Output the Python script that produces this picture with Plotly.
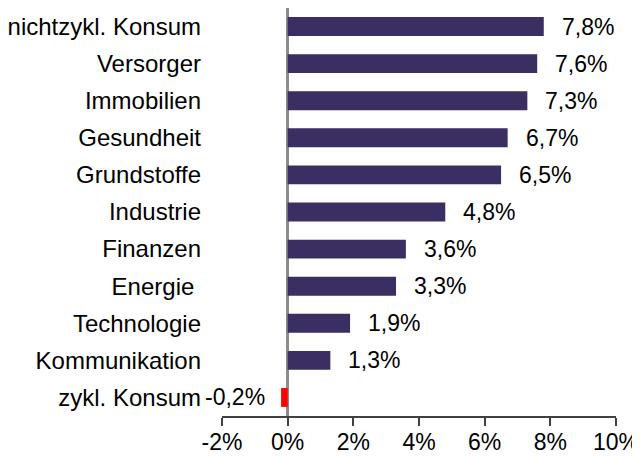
import plotly.graph_objects as go

categories = ["nichtzykl. Konsum", "Versorger", "Immobilien", "Gesundheit", "Grundstoffe",
              "Industrie", "Finanzen", "Energie ", "Technologie", "Kommunikation", "zykl. Konsum"]
values = [7.8, 7.6, 7.3, 6.7, 6.5, 4.8, 3.6, 3.3, 1.9, 1.3, -0.2]
tick_vals = [-2, 0, 2, 4, 6, 8, 10]
tick_text = ["-2%", "0%", "2%", "4%", "6%", "8%", "10%"]

pos_color = "#3B2E62"
neg_color = "#FF0000"
colors = [pos_color if v >= 0 else neg_color for v in values]
FS = 23

def fmt(v):
    return f"{v:.1f}".replace(".", ",") + "%"

fig = go.Figure(go.Bar(
    x=values, y=categories, orientation="h",
    marker=dict(color=colors, line=dict(width=0)),
    width=0.51,
))

for c, v in zip(categories, values):
    if v >= 0:
        fig.add_annotation(x=v, y=c, text=fmt(v), showarrow=False,
                           xanchor="left", xshift=16,
                           font=dict(size=FS, color="#000000"))
    else:
        fig.add_annotation(x=v, y=c, text=fmt(v), showarrow=False,
                           xanchor="right", xshift=-14,
                           font=dict(size=FS, color="#000000"))

fig.update_layout(
    width=632, height=448,
    margin=dict(l=214, r=24, t=0, b=40, autoexpand=False),
    paper_bgcolor="white", plot_bgcolor="white",
    font=dict(family="Liberation Sans, Arial, sans-serif", size=FS, color="#000000"),
    showlegend=False,
)
fig.update_xaxes(
    range=[-2, 10], tickvals=tick_vals, ticktext=tick_text,
    showgrid=False, zeroline=True, zerolinecolor="#8C8C8C", zerolinewidth=3,
    showline=True, linecolor="#404040", linewidth=2,
    ticks="outside", ticklen=8, tickcolor="#404040", tickwidth=2,
    ticklabelstandoff=-4,
    tickfont=dict(size=FS), fixedrange=True, automargin=False,
)
fig.update_yaxes(
    autorange="reversed", showgrid=False, zeroline=False, showline=False,
    ticks="", ticklabelstandoff=20, tickfont=dict(size=24), fixedrange=True,
    automargin=False,
)

fig.write_html("out.html")
